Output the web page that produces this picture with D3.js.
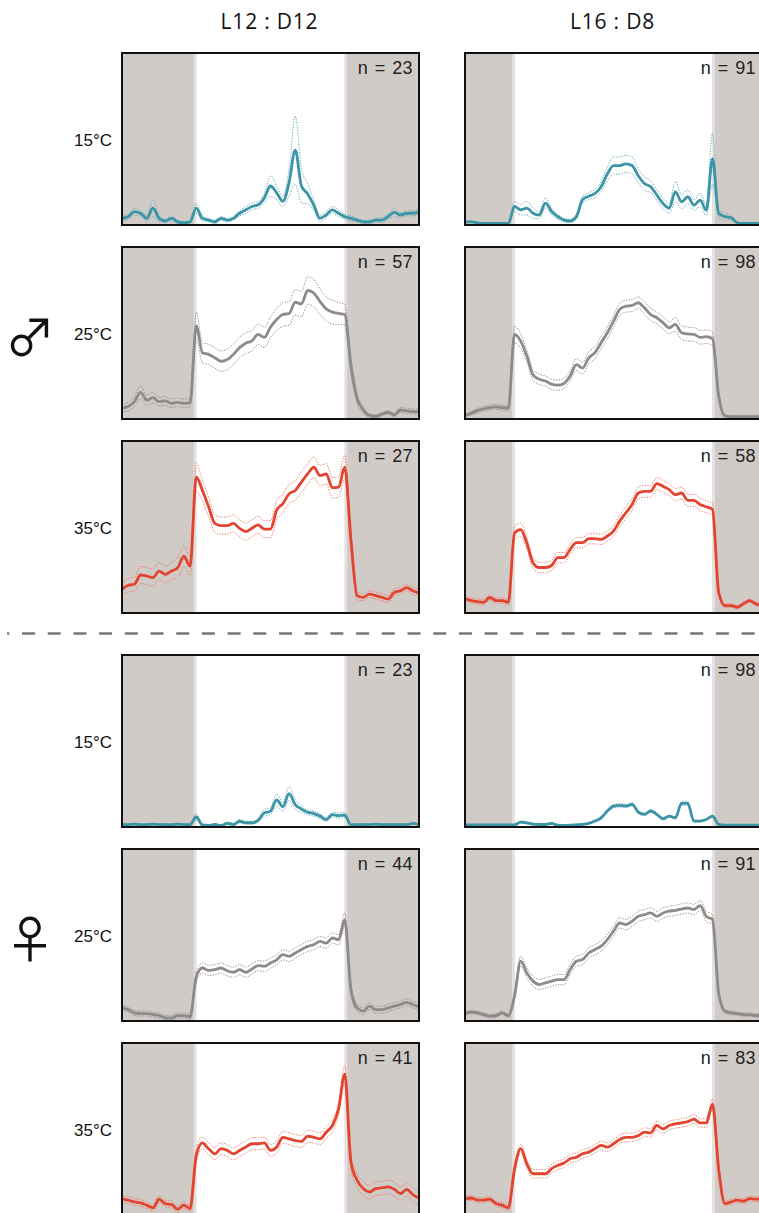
<!DOCTYPE html>
<html>
<head>
<meta charset="utf-8">
<script src="https://cdn.jsdelivr.net/npm/d3@7"></script>
<style>
  body { margin: 0; background: #fff; }
  svg { display: block; }
</style>
</head>
<body>
<script>
// ---- Time axis: half-hour bins over the 24 h cycle ----
const HOURS = [0,0.5,1,1.5,2,2.5,3,3.5,4,4.5,5,5.5,6,6.5,7,7.5,8,8.5,9,9.5,10,10.5,11,11.5,
  12,12.5,13,13.5,14,14.5,15,15.5,16,16.5,17,17.5,18,18.5,19,19.5,20,20.5,21,21.5,22,22.5,23,23.5,24];

// ---- Photoperiods (columns) ----
const PHOTOPERIODS = ["L12 : D12", "L16 : D8"];
const LIGHTS_ON  = [6, 4];
const LIGHTS_OFF = [18, 20];

// ---- Temperatures (rows within each sex) ----
const TEMPERATURES = ["15°C", "25°C", "35°C"];
const SEXES = ["♂", "♀"];

// ---- Sample sizes: [row][column] ----
const N_MALE   = [[23, 91], [57, 98], [27, 58]];
const N_FEMALE = [[23, 98], [44, 91], [41, 83]];

// ---- Activity (mean, SE) — males ----
const male15_L12    = [3,4,7,6,3,9,3,1.5,3,1,0.5,1,9,3,2,1,3,2,3,6,8,10,11,15,22,18,13,24,43,22,17.5,10.7,3,5,8,6,4,3,2,1,1,2,2,4,6.5,5,6,6,6.5];
const male15_L12_se = [1.5,1.5,2,1.5,1.5,5,1.5,1,1.5,1,0.5,0.5,3,1.5,1,1,1,1,1,1.5,2,2,2,2.5,6,4,3,8,20,10,6,3,2,2,2,2,1.5,1.5,1,1,1,1,1.5,1.5,2.5,1.5,1.5,1.5,1.5];
const male15_L16    = [1,1,0.4,0,0,0,0,0,10,8,9,6,5,12,7,4,2,1.5,4,14,16,17.6,21.6,29,34,34,35,34,28,23.5,21.6,16.7,11.8,9,18.6,12.7,15.7,10.8,13.7,7.8,38,6,4,3.5,0.4,0,0,0,0];
const male15_L16_se = [0.5,0.5,0.3,0,0,0,0,0,3,3,4,3,2,3,2,1.5,1,1,1.5,2,2,2.5,3,4,5,5,5,5,4,4,3.5,3,3,3,6,4,4,3,4,3,15,2,2,1.5,0.3,0,0,0,0];

const male25_L12    = [5.4,6.4,9.3,14.7,10.2,11.6,9.3,9.8,8.3,8.9,8.3,8.7,53.7,38,37,35,33,34,37,41,43.6,45,48.8,47,53,57.5,60.4,61,67.6,66.6,74.5,73,68,63.7,61.8,61,60.4,30.5,11.2,4.4,1.2,0.6,2,3,1.5,4.4,3.9,3.5,3.5];
const male25_L12_se = [2,2.5,3,4,3,3,2.5,2.5,2.5,2.5,2.5,2.5,8,6,6,6,6,6,6,6,6,6,6,6,6,6.5,7,7,7.5,7.5,8,8,7.5,7,7,6.5,6,5,3,2,1,1,1,1,1,1.5,1.5,1.5,1.5];
const male25_L16    = [1,2.5,4,5,5.8,6.2,5.8,5.3,48.7,44.8,36,25,22.4,21.4,19.5,19,20,24.4,31,29,35,38,43.9,49.7,56.5,63.4,65.3,65.7,67.3,64.3,60.4,58.5,55.6,52.6,54.6,49.7,49,48.7,47,47.4,46.2,12.7,1,0.5,0.5,0.5,0.5,0.5,0.5];
const male25_L16_se = [0.5,1,1.5,1.5,1.5,1.5,1.5,1.5,5,4,3.5,3,3,3,3,3,3,3,3.5,3.5,3.5,3.5,3.5,3.5,3.5,3.5,3.5,3.5,3.5,3.5,3.5,3.5,3.5,3.5,4,4,4,4,4,4,4,2,0.5,0.3,0.3,0.3,0.3,0.3,0.3];

const male35_L12    = [13,15.4,16,21.4,20.8,19.9,23.7,21.8,23.7,25.7,32.4,26.6,78.8,71,61.4,51.7,50.4,50.4,51.7,48.8,46.9,48.8,50.8,48.3,48.3,59.5,63.3,69,71,75.9,80.7,84.6,79.7,80.7,72.6,73,84.6,42,9.3,8.3,10.2,9.3,8.3,7.3,11.2,12.2,14,12.2,10.8];
const male35_L12_se = [3,4,4,5,5,5,5,5,5,6,6,6,8,6,6,5,5,5,5,5,5,5,5,5,5,5.5,5.5,5.5,5.5,6,6,6,6,6,6,6,7,5,2.5,2,2,2,2,2,2,2,2,2,2];
const male35_L16    = [7.4,6.4,5.8,5.4,8.3,6.4,6.4,5.4,46,48,40,28.5,25.8,25.8,27,31.6,31.6,36.5,40.4,40.4,42.7,42.7,42.3,44.3,47.2,53,57.9,62.7,69.5,70.5,70.5,75,73.4,71.5,68.5,69.5,65.2,65.2,62.7,61.4,59.8,11.3,3.5,3.5,2.5,4.5,6.4,4.5,3.5];
const male35_L16_se = [1.5,1.5,1.5,1.5,1.5,1.5,1.5,1.5,4,4,3.5,3,3,3,3,3,3,3,3,3,3,3,3,3,3,3.5,3.5,3.5,3.5,3.5,3.5,3.5,3.5,3.5,3.5,3.5,3.5,3.5,3.5,3.5,3.5,2,1,1,1,1,1,1,1];

// ---- Activity (mean, SE) — females ----
const female15_L12    = [0.8,0.5,0.8,0.5,0.5,0.8,0.5,0.5,0.5,0.8,0.5,0.5,5,0.3,0,0.6,0,1.2,0.6,2.5,1.6,1.6,3,7.4,8.4,15,11,18.7,12.3,9.7,7.8,7,5.5,3.5,6.4,5.8,6,0.4,0.5,0.5,0.5,0.8,0.5,0.5,0.5,0.5,0.5,1.2,0.5];
const female15_L12_se = [0.3,0.3,0.3,0.3,0.3,0.3,0.3,0.3,0.3,0.3,0.3,0.3,2,0.3,0.3,0.5,0.3,0.8,0.5,1,0.8,0.8,1,2,2,3.5,2.5,4,3,2,1.5,1.5,1.5,1,1.5,1.5,1.5,0.3,0.3,0.3,0.3,0.3,0.3,0.3,0.3,0.3,0.3,0.5,0.3];
const female15_L16    = [0.3,0.3,0.3,0.3,0.3,0.3,0.3,0.3,0.4,2,1.6,0.8,0.6,0.6,1.2,0.2,0,0.2,0.4,0.6,1.2,2.6,4.5,8.5,11.4,11.8,11.4,12.4,7.9,6.5,8.5,6.5,3.9,5.5,4.5,13,13,2.6,2.6,3.5,5.5,0.6,0.2,0.2,0.2,0.2,0.2,0.2,0.2];
const female15_L16_se = [0.2,0.2,0.2,0.2,0.2,0.2,0.2,0.2,0.3,0.6,0.6,0.5,0.5,0.5,0.5,0.3,0.2,0.3,0.3,0.4,0.5,0.6,0.8,0.8,1,1,1,1,0.8,0.8,0.8,0.8,0.6,0.6,0.6,1.2,1.2,0.5,0.5,0.5,0.5,0.3,0.2,0.2,0.2,0.2,0.2,0.2,0.2];

const female25_L12    = [6.8,5.8,3.9,3.5,3.5,2.9,2.3,1,1,2.3,2.3,1.6,25,30.2,28.8,29.2,30.2,28.6,27.7,29.2,27.7,29.6,31.6,31.2,33.1,35,38,37,39,41,42.9,43.9,45.8,44.8,47.8,46.8,58.5,17.5,6.8,4.9,7.8,5.8,5.8,6.8,7.8,8.8,10.1,8.8,7.4];
const female25_L12_se = [1.5,1.5,1.5,1.5,1.5,1.5,1.5,1.5,1.5,1.5,1.5,1.5,3,3,3,3,3,3,3,3,3,3,3,3,3,3,3,3,3,3,3,3,3,3,3,3,4,3,2,2,2,2,2,2,2,2,2,2,2];
const female25_L16    = [3.5,4.3,3.9,2.9,2,2.3,3.9,2.3,13.7,34.2,27.3,22.5,20.5,21.5,22.5,23.4,23.4,29.3,34.2,35.2,39,41,43,46.9,51.8,56.6,55.7,57.6,60.5,61.5,62.5,60.5,62.5,63.5,64,64.8,65.4,64.5,66.8,60.5,58.6,15.6,4.9,3.9,3.5,2.9,2.9,2.3,2.9];
const female25_L16_se = [1,1,1,1,1,1,1,1,2,3,3,3,3,3,3,3,3,3,3,3,3,3,3,3,3,3,3,3,3,3,3,3,3,3,3,3,3,3,3,3,3,2,1,1,1,1,1,1,1];

const female35_L12    = [8.4,7.8,6.8,6.2,4.9,3.3,8.4,5.8,5.3,2.5,4.9,2.9,34,41.4,38,35,38,37,35,37,39,40.9,40.9,41.4,37,39,44.7,43.8,42.8,42.2,45.3,44.7,43.8,47.7,51.6,61.3,81.7,30.2,19.5,14.6,12.6,14.6,15,15.6,14.2,11.7,14.2,11.1,9.1];
const female35_L12_se = [2,2,2,2,2,2,2,2,2,2,2,2,4,3.5,3.5,3.5,3.5,3.5,3.5,3.5,3.5,3.5,3.5,3.5,3.5,3.5,3.5,3.5,3.5,3.5,3.5,3.5,3.5,3.5,3.5,3.5,5,4,4,4,4,4,4,4,4,4,4,4,4];
const female35_L16    = [8.8,9.1,7.8,7.8,8.4,5.8,4.9,3.3,26,38,29,23.3,23.3,23.3,26.3,28.2,29.6,32.1,33,35,36,38,39.9,38.9,40.9,43.4,44.7,44.7,45.7,47.7,47.3,51.6,49.6,51.6,52.5,53.1,53.9,55.4,53.1,53.1,64.2,26,5.8,6.8,7.8,7.2,8.8,8.4,8.4];
const female35_L16_se = [1.5,1.5,1.5,1.5,1.5,1.5,1.5,1.5,3,2.5,2.5,2.5,2.5,2.5,2.5,2.5,2.5,2.5,2.5,2.5,2.5,2.5,2.5,2.5,2.5,2.5,2.5,2.5,2.5,2.5,2.5,2.5,2.5,2.5,2.5,2.5,2.5,2.5,2.5,2.5,3,3,1.5,1.5,1.5,1.5,1.5,1.5,1.5];

// Series laid out as [row][column], rows: ♂15, ♂25, ♂35, ♀15, ♀25, ♀35
const MEANS = [
  [male15_L12, male15_L16], [male25_L12, male25_L16], [male35_L12, male35_L16],
  [female15_L12, female15_L16], [female25_L12, female25_L16], [female35_L12, female35_L16]
];
const SES = [
  [male15_L12_se, male15_L16_se], [male25_L12_se, male25_L16_se], [male35_L12_se, male35_L16_se],
  [female15_L12_se, female15_L16_se], [female25_L12_se, female25_L16_se], [female35_L12_se, female35_L16_se]
];
const N_ALL = N_MALE.concat(N_FEMALE);

// ---- Styling / layout ----
const TEMP_COLORS = ["#3b95a6", "#8e8a8a", "#e4432f"];
const SE_COLORS   = ["#5aa3b2", "#8a8585", "#ee6a55"];
const NIGHT_FILL = "#d1cbc8";
const EDGE_FILL  = "#e3e0df";

const W = 759, H = 1213;
const PANEL_X = [122, 465];
const PANEL_W = 297, PANEL_H = 172;
const ROW_Y = [53, 247, 441, 655, 849, 1043];

const svg = d3.select("body").append("svg")
  .attr("width", W).attr("height", H)
  .attr("viewBox", `0 0 ${W} ${H}`);

const defs = svg.append("defs");

// Column headers
svg.selectAll("text.col")
  .data(PHOTOPERIODS)
  .join("text")
  .attr("class", "col")
  .attr("x", (d, i) => PANEL_X[i] + PANEL_W / 2 - 1)
  .attr("y", 29)
  .attr("text-anchor", "middle")
  .attr("font-family", "'Open Sans', 'Liberation Sans', sans-serif")
  .attr("font-size", 21)
  .attr("letter-spacing", 0.8)
  .attr("fill", "#111")
  .text(d => d);

// Sex symbols next to the 25°C rows
SEXES.forEach((s, i) => {
  const rowIdx = i * 3 + 1;
  svg.append("text")
    .attr("x", 30)
    .attr("y", ROW_Y[rowIdx] + PANEL_H / 2 + 1)
    .attr("text-anchor", "middle")
    .attr("dominant-baseline", "central")
    .attr("font-family", "'Noto Sans CJK JP', 'DejaVu Sans', sans-serif")
    .attr("font-size", 50)
    .attr("fill", "#111")
    .text(s);
});

// Dashed separator between the sexes
svg.append("line")
  .attr("x1", 7).attr("x2", W)
  .attr("y1", 633.5).attr("y2", 633.5)
  .attr("stroke", "#777")
  .attr("stroke-width", 2.5)
  .attr("stroke-dasharray", "13 12.7")
  .attr("stroke-dashoffset", 10.7);

const x = PANEL_X.map(px => d3.scaleLinear().domain([0, 24]).range([px, px + PANEL_W]));

ROW_Y.forEach((py, r) => {
  const tIdx = r % 3;
  const color = TEMP_COLORS[tIdx];
  const seColor = SE_COLORS[tIdx];
  const y = d3.scaleLinear().domain([0, 100]).range([py + PANEL_H - 1.5, py]);

  // Temperature label
  svg.append("text")
    .attr("x", 112)
    .attr("y", py + PANEL_H / 2 + 1)
    .attr("text-anchor", "end")
    .attr("dominant-baseline", "central")
    .attr("font-family", "'Liberation Sans', Arial, sans-serif")
    .attr("font-size", 17)
    .attr("fill", "#111")
    .text(TEMPERATURES[tIdx]);

  PHOTOPERIODS.forEach((p, c) => {
    const xs = x[c];
    const px = PANEL_X[c];
    const clipId = `clip-${r}-${c}`;
    defs.append("clipPath").attr("id", clipId)
      .append("rect").attr("x", px).attr("y", py).attr("width", PANEL_W).attr("height", PANEL_H);

    const g = svg.append("g").attr("clip-path", `url(#${clipId})`);

    // white background
    g.append("rect").attr("x", px).attr("y", py).attr("width", PANEL_W).attr("height", PANEL_H).attr("fill", "#fff");

    // dark phases
    const nights = [[0, LIGHTS_ON[c]], [LIGHTS_OFF[c], 24]];
    g.selectAll("rect.night").data(nights).join("rect")
      .attr("class", "night")
      .attr("x", d => xs(d[0])).attr("y", py)
      .attr("width", d => xs(d[1]) - xs(d[0])).attr("height", PANEL_H)
      .attr("fill", NIGHT_FILL);
    // light edge where dark meets light
    g.append("rect").attr("x", xs(LIGHTS_ON[c]) - 2.5).attr("y", py).attr("width", 2.5).attr("height", PANEL_H).attr("fill", EDGE_FILL);
    g.append("rect").attr("x", xs(LIGHTS_OFF[c])).attr("y", py).attr("width", 2.5).attr("height", PANEL_H).attr("fill", EDGE_FILL);

    const mean = MEANS[r][c];
    const se = SES[r][c];
    const pts = HOURS.map((h, i) => ({ h, m: mean[i], s: se[i] }));

    const line = acc => d3.line()
      .x(d => xs(d.h))
      .y(d => y(acc(d)))
      .curve(d3.curveMonotoneX);

    // SE bounds (dotted)
    [d => d.m + d.s, d => Math.max(0, d.m - d.s)].forEach(acc => {
      g.append("path")
        .datum(pts)
        .attr("d", line(acc))
        .attr("fill", "none")
        .attr("stroke", seColor)
        .attr("stroke-width", 1)
        .attr("stroke-dasharray", "1.3 1.4")
        .attr("opacity", 0.9);
    });

    // mean
    g.append("path")
      .datum(pts)
      .attr("d", line(d => d.m))
      .attr("fill", "none")
      .attr("stroke", color)
      .attr("stroke-width", 2.8)
      .attr("stroke-linejoin", "round");

    // frame
    svg.append("rect")
      .attr("x", px).attr("y", py)
      .attr("width", PANEL_W).attr("height", PANEL_H)
      .attr("fill", "none")
      .attr("stroke", "#111")
      .attr("stroke-width", 2);

    // sample size
    svg.append("text")
      .attr("x", px + PANEL_W - 6)
      .attr("y", py + 21)
      .attr("text-anchor", "end")
      .attr("font-family", "'Liberation Sans', Arial, sans-serif")
      .attr("font-size", 18)
      .attr("letter-spacing", 0.4)
      .attr("word-spacing", 1.2)
      .attr("fill", "#222")
      .text(`n = ${N_ALL[r][c]}`);
  });
});
</script>
</body>
</html>
